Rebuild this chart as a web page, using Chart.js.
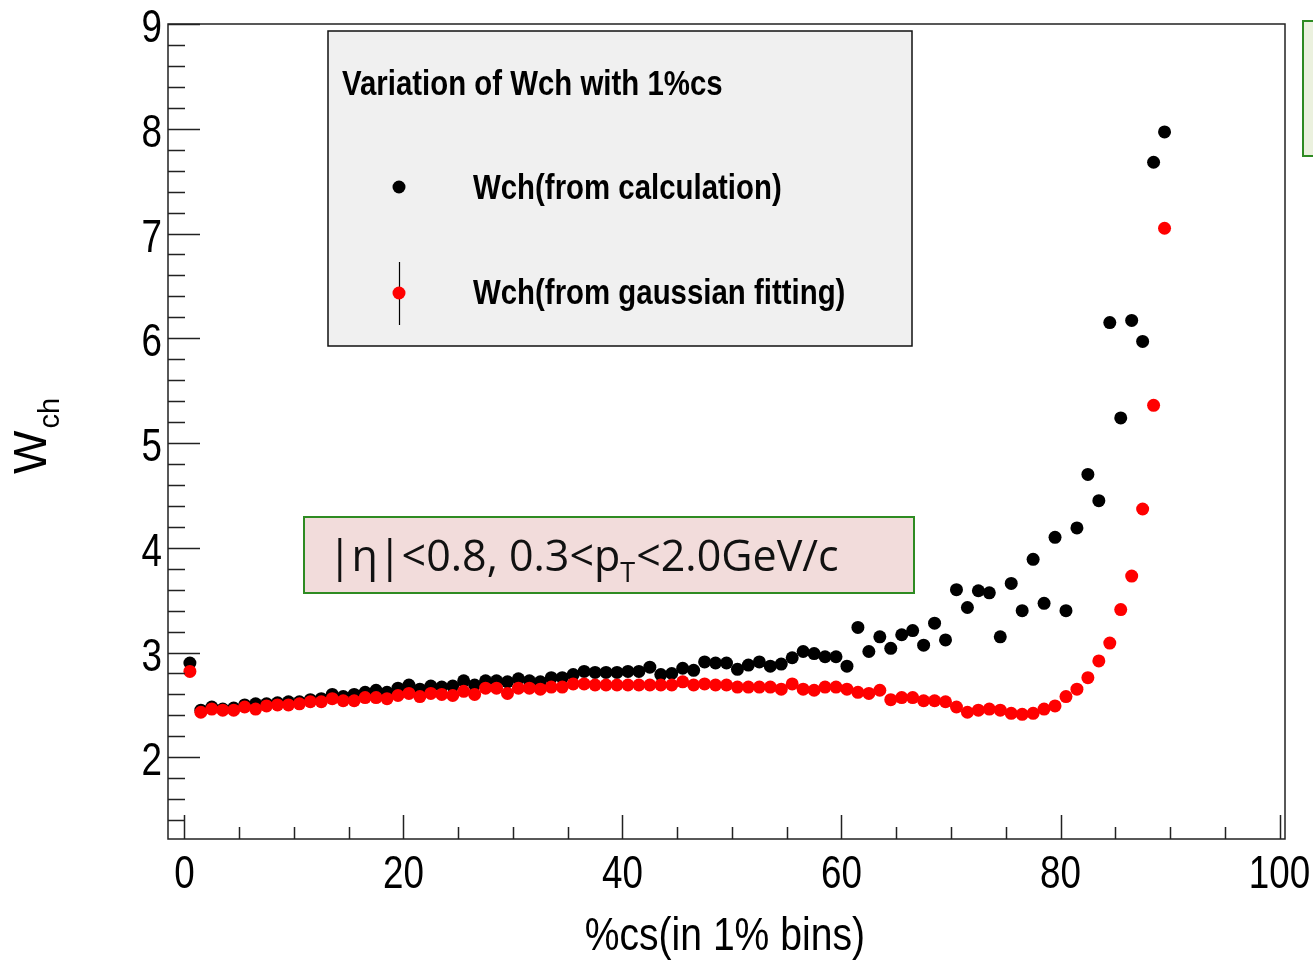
<!DOCTYPE html>
<html>
<head>
<meta charset="utf-8">
<script src="https://cdn.jsdelivr.net/npm/chart.js@4/dist/chart.umd.min.js"></script>
<style>
  html, body { margin: 0; padding: 0; background: #fff; }
  #wrap { width: 1313px; height: 961px; position: relative; }
</style>
</head>
<body>
<div id="wrap"><canvas id="c" width="1313" height="961"></canvas></div>
<script>
// 1% centrality bins, value drawn at the bin centre
const binWidth = 1;
const binCount = 90;
const binCentres = Array.from({ length: binCount }, (_, i) => i * binWidth + binWidth / 2);

// Wch from calculation (black)
const wchCalc = [
  2.90, 2.45, 2.48, 2.46, 2.47, 2.50, 2.51, 2.51, 2.52, 2.53,
  2.53, 2.55, 2.56, 2.60, 2.58, 2.60, 2.62, 2.64, 2.62, 2.66,
  2.69, 2.65, 2.68, 2.67, 2.68, 2.73, 2.69, 2.73, 2.73, 2.72,
  2.75, 2.73, 2.72, 2.76, 2.76, 2.79, 2.82, 2.81, 2.81, 2.81,
  2.82, 2.82, 2.86, 2.79, 2.80, 2.85, 2.83, 2.91, 2.90, 2.90,
  2.84, 2.88, 2.91, 2.87, 2.89, 2.95, 3.01, 2.99, 2.96, 2.96,
  2.87, 3.24, 3.01, 3.15, 3.04, 3.17, 3.21, 3.07, 3.28, 3.12,
  3.60, 3.43, 3.59, 3.57, 3.15, 3.66, 3.40, 3.89, 3.47, 4.10,
  3.40, 4.19, 4.70, 4.45, 6.15, 5.24, 6.17, 5.97, 7.68, 7.97
];

// Wch from gaussian fitting (red)
const wchFit = [
  2.82, 2.43, 2.46, 2.45, 2.45, 2.48, 2.46, 2.49, 2.50, 2.50,
  2.51, 2.53, 2.53, 2.56, 2.54, 2.54, 2.57, 2.57, 2.56, 2.59,
  2.61, 2.58, 2.61, 2.60, 2.59, 2.63, 2.60, 2.66, 2.66, 2.61,
  2.66, 2.66, 2.65, 2.67, 2.67, 2.70, 2.70, 2.69, 2.69, 2.69,
  2.69, 2.69, 2.69, 2.69, 2.69, 2.72, 2.69, 2.70, 2.69, 2.69,
  2.67, 2.67, 2.67, 2.67, 2.65, 2.70, 2.65, 2.64, 2.67, 2.67,
  2.65, 2.62, 2.61, 2.64, 2.55, 2.57, 2.57, 2.54, 2.54, 2.53,
  2.48, 2.43, 2.45, 2.46, 2.45, 2.42, 2.41, 2.42, 2.46, 2.49,
  2.58, 2.65, 2.76, 2.92, 3.09, 3.41, 3.73, 4.37, 5.36, 7.05
];

const xTickLabels = [0, 20, 40, 60, 80, 100];
const yTickLabels = [2, 3, 4, 5, 6, 7, 8, 9];
const legendTitle = 'Variation of Wch with 1%cs';
const seriesNames = ['Wch(from calculation)', 'Wch(from gaussian fitting)'];

const SANS = '"Liberation Sans", Arial, sans-serif';
const CALI = '"Open Sans", "Noto Sans", sans-serif';

function toPoints(ys) {
  return ys.map((y, i) => ({ x: binCentres[i], y }));
}

// text squeezed horizontally, like the condensed ROOT font
function squeezed(ctx, text, x, y, sx, align) {
  const w = ctx.measureText(text).width * sx;
  let left = x;
  if (align === 'center') left = x - w / 2;
  if (align === 'right') left = x - w;
  ctx.save();
  ctx.translate(left, y);
  ctx.scale(sx, 1);
  ctx.textAlign = 'left';
  ctx.fillText(text, 0, 0);
  ctx.restore();
  return w;
}

const rootStyle = {
  id: 'rootStyle',
  afterDatasetsDraw(chart) {
    const ctx = chart.ctx;
    const a = chart.chartArea;
    const xs = chart.scales.x, ys = chart.scales.y;
    ctx.save();
    // frame
    ctx.strokeStyle = '#222';
    ctx.lineWidth = 1.5;
    ctx.strokeRect(a.left, a.top, a.right - a.left, a.bottom - a.top);
    // x ticks (inside)
    ctx.beginPath();
    for (let v = 0; v <= 100; v += 5) {
      const px = Math.round(xs.getPixelForValue(v)) + 0.5;
      const len = v % 20 === 0 ? 24 : 12;
      ctx.moveTo(px, a.bottom);
      ctx.lineTo(px, a.bottom - len);
    }
    // y ticks (inside)
    for (let k = 7; k <= 45; k++) {
      const v = k * 0.2;
      if (v < ys.min) continue;
      const py = Math.round(ys.getPixelForValue(v)) + 0.5;
      const len = k % 5 === 0 ? 32 : 17;
      ctx.moveTo(a.left, py);
      ctx.lineTo(a.left + len, py);
    }
    ctx.stroke();

    // tick labels
    ctx.fillStyle = '#000';
    ctx.textBaseline = 'alphabetic';
    ctx.font = '46px ' + SANS;
    xTickLabels.forEach(v => {
      squeezed(ctx, String(v), xs.getPixelForValue(v), 888, 0.8, 'center');
    });
    yTickLabels.forEach(v => {
      squeezed(ctx, String(v), 162, ys.getPixelForValue(v) + 18, 0.8, 'right');
    });

    // legend box
    ctx.fillStyle = '#f0f0f0';
    ctx.fillRect(328, 31, 584, 315);
    ctx.strokeStyle = '#111';
    ctx.lineWidth = 1.5;
    ctx.strokeRect(328, 31, 584, 315);
    ctx.fillStyle = '#000';
    ctx.font = 'bold 35px ' + SANS;
    squeezed(ctx, legendTitle, 342, 95, 0.84, 'left');
    squeezed(ctx, seriesNames[0], 473, 199, 0.84, 'left');
    squeezed(ctx, seriesNames[1], 473, 304, 0.84, 'left');
    ctx.beginPath();
    ctx.arc(399, 187, 6.5, 0, Math.PI * 2);
    ctx.fill();
    ctx.strokeStyle = '#000';
    ctx.lineWidth = 1.2;
    ctx.beginPath();
    ctx.moveTo(399.5, 262);
    ctx.lineTo(399.5, 325);
    ctx.stroke();
    ctx.fillStyle = '#ff0000';
    ctx.beginPath();
    ctx.arc(399, 293, 6.5, 0, Math.PI * 2);
    ctx.fill();

    // cut box
    ctx.fillStyle = '#f2dcdb';
    ctx.fillRect(304, 517, 610, 76);
    ctx.strokeStyle = '#2e8b22';
    ctx.lineWidth = 2;
    ctx.strokeRect(304, 517, 610, 76);
    ctx.fillStyle = '#111';
    ctx.font = '43px ' + CALI;
    let x = 328;
    const base = 571;
    x += squeezed(ctx, '|η|<0.8, 0.3<p', x, base, 1, 'left');
    ctx.font = '27px ' + CALI;
    x += squeezed(ctx, 'T', x, base + 11, 1, 'left') + 1;
    ctx.font = '43px ' + CALI;
    squeezed(ctx, '<2.0GeV/c', x, base, 1, 'left');

    // partial box at top right
    ctx.fillStyle = '#ebf1de';
    ctx.fillRect(1303, 21, 20, 135);
    ctx.strokeStyle = '#2e8b22';
    ctx.lineWidth = 2;
    ctx.strokeRect(1303, 21, 20, 135);

    // axis titles
    ctx.fillStyle = '#000';
    ctx.font = '46px ' + SANS;
    squeezed(ctx, '%cs(in 1% bins)', 865, 950, 0.85, 'right');
    ctx.save();
    ctx.translate(46, 474);
    ctx.rotate(-Math.PI / 2);
    ctx.textAlign = 'left';
    ctx.font = '46px ' + SANS;
    ctx.fillText('W', 0, 0);
    const w = ctx.measureText('W').width;
    ctx.font = '29px ' + SANS;
    ctx.fillText('ch', w + 2, 13);
    ctx.restore();
    ctx.restore();
  }
};

new Chart(document.getElementById('c').getContext('2d'), {
  type: 'scatter',
  data: {
    datasets: [
      {
        label: seriesNames[1],
        data: toPoints(wchFit),
        backgroundColor: '#ff0000',
        borderWidth: 0,
        pointRadius: 6.5,
        pointHoverRadius: 6.5,
        order: 0
      },
      {
        label: seriesNames[0],
        data: toPoints(wchCalc),
        backgroundColor: '#000000',
        borderWidth: 0,
        pointRadius: 6.5,
        pointHoverRadius: 6.5,
        order: 1
      }
    ]
  },
  options: {
    responsive: false,
    animation: false,
    layout: { padding: { left: 60, right: 28, top: 24, bottom: 0 } },
    plugins: { legend: { display: false }, tooltip: { enabled: false } },
    scales: {
      x: {
        type: 'linear',
        min: -1.5,
        max: 100.5,
        afterFit(s) { s.height = 122; s.paddingLeft = 0; s.paddingRight = 0; },
        grid: { display: false, drawTicks: false },
        border: { display: false },
        ticks: { display: false }
      },
      y: {
        type: 'linear',
        min: 1.22,
        max: 9,
        afterFit(s) { s.width = 108; s.paddingTop = 0; s.paddingBottom = 0; },
        grid: { display: false, drawTicks: false },
        border: { display: false },
        ticks: { display: false }
      }
    }
  },
  plugins: [rootStyle]
});
</script>
</body>
</html>
